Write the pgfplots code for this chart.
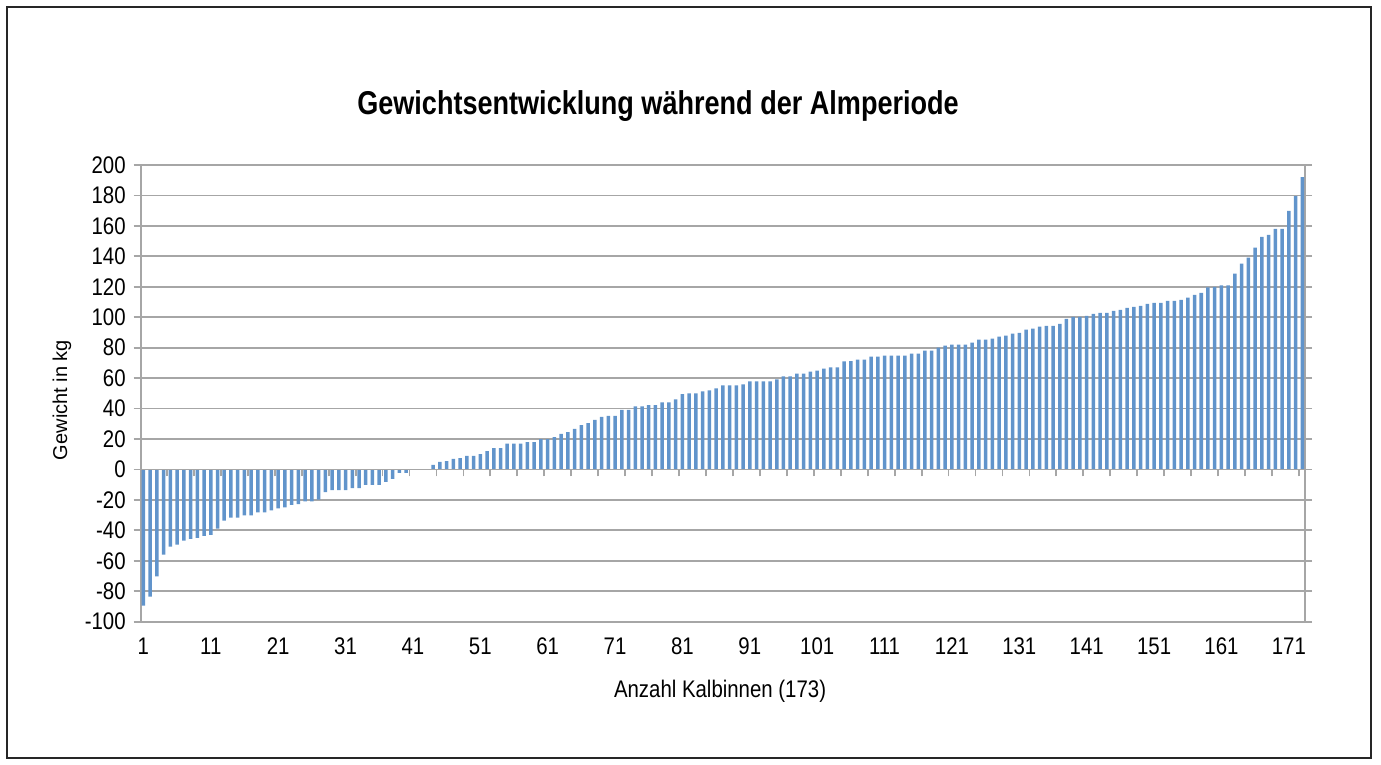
\documentclass[border=0pt]{standalone}
\usepackage{fontspec}
\setmainfont{Liberation Sans}
\newfontfamily\condfont{Liberation Sans}[FakeStretch=0.85]
\newfontfamily\titlefont{Liberation Sans}[FakeStretch=0.82]
\usepackage{pgfplots}
\pgfplotsset{compat=1.18}
\definecolor{barblue}{HTML}{6194CB}
\definecolor{gridgray}{HTML}{A6A6A6}

\begin{document}
\begin{tikzpicture}
\useasboundingbox (-70.35pt,-71.65pt) rectangle (620.15pt,310.85pt);
\draw[black!85, line width=0.6pt] (-66.85pt,-68.15pt) rectangle (615.15pt,307.35pt);

\begin{axis}[
  at={(0,0)}, anchor=south west,
  scale only axis,
  width=582.15pt, height=228.35pt,
  xmin=0.6, xmax=173.4,
  ymin=-100, ymax=200,
  ytick={-100,-80,...,200},
  xtick={1,11,...,171},
  ymajorgrids,
  grid style={gridgray, line width=0.9pt},
  axis line style={gridgray, line width=0.9pt},
  xtick style={draw=none},
  ytick style={gridgray, line width=0.9pt},
  tick align=outside,
  major tick length=3.5pt,
  /pgf/number format/assume math mode=true,
  ticklabel style={font=\condfont\fontsize{12}{13}\selectfont},
  yticklabel style={/pgf/number format/fixed, xshift=-0.5pt},
  xticklabel style={yshift=-1pt},
  title={\titlefont\bfseries\fontsize{16.5}{18}\selectfont Gewichtsentwicklung während der Almperiode},
  title style={at={(axis description cs:0.4443,1.103)}, anchor=center},
  xlabel={\condfont\fontsize{12}{14}\selectfont Anzahl Kalbinnen (173)},
  xlabel style={at={(axis description cs:0.4976,-0.1525)}, anchor=center},
  ylabel={\fontsize{10}{12}\selectfont Gewicht in kg},
  ylabel style={at={(axis description cs:-0.0676,0.4854)}, anchor=center},
]
\addplot[ybar, bar width=1.75pt, fill=barblue, draw=none] coordinates {
(1,-89.5) (2,-83.6) (3,-70.2) (4,-56) (5,-50.7) (6,-49.3) (7,-46.7) (8,-45.6) (9,-44.9) (10,-43.6)
(11,-42.9) (12,-38.9) (13,-33.6) (14,-31.6) (15,-31.6) (16,-30.2) (17,-30.2) (18,-28.2) (19,-28.2) (20,-26.9)
(21,-25.6) (22,-24.9) (23,-23.3) (24,-22.7) (25,-20.9) (26,-20.9) (27,-19.8) (28,-14.9) (29,-13.6) (30,-13.6)
(31,-13.6) (32,-12.2) (33,-12.2) (34,-10.2) (35,-10.2) (36,-10.2) (37,-8.2) (38,-6.2) (39,-2.2) (40,-2.2)
(41,0) (42,0) (43,0) (44,3) (45,5) (46,5.5) (47,7) (48,7.5) (49,9) (50,9)
(51,10) (52,12) (53,14) (54,14) (55,17) (56,17) (57,17) (58,18) (59,18) (60,20)
(61,20) (62,21.3) (63,23.3) (64,24.6) (65,26.6) (66,29.2) (67,30.5) (68,32.5) (69,34.5) (70,35.2)
(71,35.2) (72,39.1) (73,39.1) (74,41.5) (75,41.5) (76,42.2) (77,42.2) (78,44.1) (79,44.1) (80,46.1)
(81,49.5) (82,50) (83,50) (84,51.3) (85,52) (86,53.3) (87,55.2) (88,55.2) (89,55.2) (90,55.9)
(91,57.8) (92,57.8) (93,57.8) (94,57.8) (95,59.1) (96,61.1) (97,61.1) (98,63) (99,63) (100,64.3)
(101,65) (102,66.3) (103,67) (104,67) (105,71) (106,71.1) (107,72.1) (108,72.1) (109,74.1) (110,74.1)
(111,74.7) (112,74.7) (113,74.7) (114,74.7) (115,76.1) (116,76.1) (117,78) (118,78) (119,80) (120,81.3)
(121,82) (122,82) (123,82) (124,83.3) (125,85.3) (126,85.3) (127,85.9) (128,87.2) (129,87.9) (130,89.2)
(131,89.8) (132,91.8) (133,92.5) (134,93.8) (135,94.4) (136,94.3) (137,95.6) (138,98.9) (139,100.2) (140,100.2)
(141,100.9) (142,102.2) (143,102.8) (144,102.8) (145,104.2) (146,104.8) (147,106.1) (148,106.8) (149,107.4) (150,108.8)
(151,109.4) (152,109.4) (153,110.7) (154,110.7) (155,111.4) (156,112.8) (157,114.7) (158,116) (159,119.6) (160,120)
(161,120.9) (162,120.9) (163,128.7) (164,135.2) (165,139.1) (166,145.7) (167,152.8) (168,154.1) (169,158) (170,158)
(171,169.8) (172,179.6) (173,192)
};
\end{axis}

% zero line with the small category tick marks
\begin{axis}[
  at={(0,0)}, anchor=south west,
  scale only axis,
  width=582.15pt, height=228.35pt,
  xmin=0.6, xmax=173.4,
  ymin=-100, ymax=200,
  axis x line=middle, axis y line=none,
  axis line style={gridgray, line width=0.9pt, -},
  xtick={0.5,4.5,...,172.5},
  xticklabels={},
  xtick style={gridgray, line width=0.9pt},
  tick align=outside,
  major tick length=3.5pt,
]
\end{axis}
\end{tikzpicture}
\end{document}
